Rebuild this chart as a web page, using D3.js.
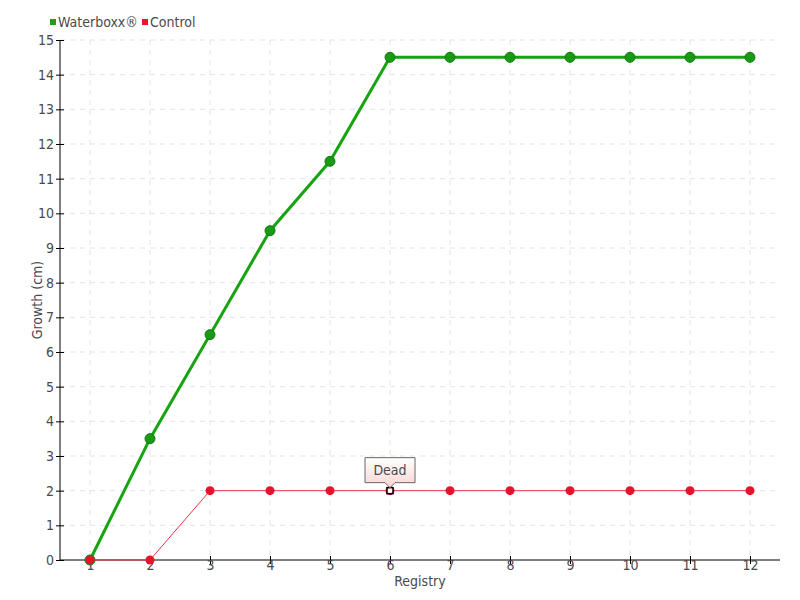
<!DOCTYPE html>
<html>
<head>
<meta charset="utf-8">
<script src="https://cdn.jsdelivr.net/npm/d3@7"></script>
<style>
  body { margin: 0; background: #fff; }
  text { font-family: "DejaVu Sans Condensed", "Liberation Sans Narrow", sans-serif; fill: #4a4a4a; }
</style>
</head>
<body>
<div id="vis"></div>
<script>
// chart data
var registry = [1, 2, 3, 4, 5, 6, 7, 8, 9, 10, 11, 12];
var waterboxx = [0, 3.5, 6.5, 9.5, 11.5, 14.5, 14.5, 14.5, 14.5, 14.5, 14.5, 14.5];
var control = [0, 0, 2, 2, 2, 2, 2, 2, 2, 2, 2, 2];
var yTicks = d3.range(0, 16);
var deadIndex = 5;

var width = 800, height = 600;
var margin = {top: 40, right: 20, bottom: 40, left: 60},
    graphWidth = width - margin.left - margin.right,
    graphHeight = height - margin.top - margin.bottom;

var svg = d3.select("#vis").append("svg")
  .attr("width", width)
  .attr("height", height);

var defs = svg.append("defs");
var grad = defs.append("linearGradient").attr("id", "tipGrad")
  .attr("x1", 0).attr("y1", 0).attr("x2", 0).attr("y2", 1);
grad.append("stop").attr("offset", "0%").attr("stop-color", "#ffffff");
grad.append("stop").attr("offset", "100%").attr("stop-color", "#fbd4d4");

var x = d3.scaleLinear().domain([0.5, 12.5]).range([0, graphWidth]);
var y = d3.scaleLinear().domain([0, 15]).range([graphHeight, 0]);

var graph = svg.append("g")
  .attr("transform", "translate(" + margin.left + "," + margin.top + ")");

// grid
graph.append("g").selectAll("line.hg")
  .data(yTicks.filter(function(d) { return d > 0; }))
  .enter().append("line")
    .attr("x1", 0).attr("x2", graphWidth)
    .attr("y1", function(d) { return y(d); })
    .attr("y2", function(d) { return y(d); })
    .attr("stroke", "#e3e3e3").attr("stroke-dasharray", "5,5");

graph.append("g").selectAll("line.vg")
  .data(registry)
  .enter().append("line")
    .attr("x1", function(d) { return x(d); })
    .attr("x2", function(d) { return x(d); })
    .attr("y1", 0).attr("y2", graphHeight)
    .attr("stroke", "#e3e3e3").attr("stroke-dasharray", "5,5");

// axes
var xAxis = graph.append("g")
  .attr("transform", "translate(0," + graphHeight + ")")
  .call(d3.axisBottom(x).tickValues(registry).tickSize(4).tickFormat(d3.format("d")));
xAxis.select(".domain").attr("d", "M0,0H" + graphWidth).attr("stroke", "#000");
xAxis.selectAll(".tick line").attr("y1", -4).attr("stroke", "#000");
xAxis.selectAll("text").attr("dy", "0.45em").attr("y", 4).style("font-size", "14px");

var yAxis = graph.append("g")
  .call(d3.axisLeft(y).tickValues(yTicks).tickSize(4).tickFormat(d3.format("d")));
yAxis.select(".domain").attr("d", "M0,0V" + graphHeight).attr("stroke", "#000");
yAxis.selectAll(".tick line").attr("x1", -4).attr("x2", 4).attr("stroke", "#000");
yAxis.selectAll("text").attr("x", -6).style("font-size", "14px");

// axis titles
svg.append("text")
  .attr("x", margin.left + graphWidth / 2)
  .attr("y", 586)
  .attr("text-anchor", "middle")
  .style("font-size", "14px")
  .text("Registry");

svg.append("text")
  .attr("transform", "translate(42," + (margin.top + graphHeight / 2) + ") rotate(-90)")
  .attr("text-anchor", "middle")
  .style("font-size", "14px")
  .text("Growth (cm)");

var line = d3.line()
  .x(function(d, i) { return x(registry[i]); })
  .y(function(d) { return y(d); });

// waterboxx
graph.append("path")
  .datum(waterboxx)
  .attr("d", line)
  .attr("fill", "none")
  .attr("stroke", "#17a312")
  .attr("stroke-width", 3);

graph.selectAll(".wDot")
  .data(waterboxx)
  .enter().append("circle")
    .attr("cx", function(d, i) { return x(registry[i]); })
    .attr("cy", function(d) { return y(d); })
    .attr("r", 5)
    .attr("fill", "#199a15")
    .attr("stroke", "#137a10")
    .attr("stroke-width", 1);

// control
graph.append("path")
  .datum(control)
  .attr("d", line)
  .attr("fill", "none")
  .attr("stroke", "#ee3344")
  .attr("stroke-width", 1);

graph.selectAll(".cDot")
  .data(control)
  .enter().append("circle")
    .attr("cx", function(d, i) { return x(registry[i]); })
    .attr("cy", function(d) { return y(d); })
    .attr("r", 4.5)
    .attr("fill", "#e8132a");

// dead marker
var dx = x(registry[deadIndex]), dy = y(control[deadIndex]);
graph.append("rect")
  .attr("x", dx - 3).attr("y", dy - 3)
  .attr("width", 6).attr("height", 6)
  .attr("fill", "#fff").attr("stroke", "#000").attr("stroke-width", 1.5);

// tooltip
var tip = graph.append("g");
var tw = 50, th = 25, tx = dx - 25, ty = dy - 33;
tip.append("path")
  .attr("d", "M" + tx + "," + ty + "h" + tw + "v" + th + "h" + (-(tw / 2) + 5) +
        "l-5,5l-5,-5h" + (-(tw / 2) + 5) + "z")
  .attr("fill", "url(#tipGrad)")
  .attr("stroke", "#666")
  .attr("stroke-width", 1);
tip.append("text")
  .attr("x", dx).attr("y", ty + 17)
  .attr("text-anchor", "middle")
  .style("font-size", "14px")
  .text("Dead");

// legend
var legend = svg.append("g");
var items = [
  {label: "Waterboxx®", color: "#17a312", x: 50},
  {label: "Control", color: "#ee1133", x: 142}
];
items.forEach(function(it) {
  legend.append("rect")
    .attr("x", it.x).attr("y", 19)
    .attr("width", 6).attr("height", 6)
    .attr("fill", it.color);
  legend.append("text")
    .attr("x", it.x + 8).attr("y", 27)
    .style("font-size", "14px")
    .text(it.label);
});
</script>
</body>
</html>
